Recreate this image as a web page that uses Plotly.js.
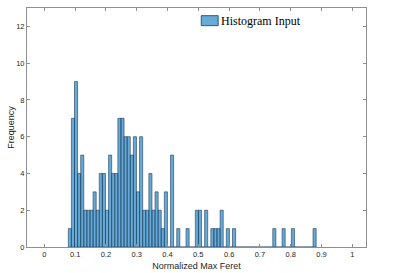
<!DOCTYPE html>
<html><head><meta charset="utf-8">
<script src="https://cdn.plot.ly/plotly-3.0.1.min.js"></script>
<style>html,body{margin:0;padding:0;background:#fff;}#chart{width:415px;height:273px;}</style>
</head><body><div id="chart"></div>
<script>
// Histogram bins (80 equal bins)
const firstEdge = 0.0779;
const binWidth = 0.01006;
const counts = [1,7,9,4,5,2,2,2,3,2,
                4,4,2,5,4,4,7,7,6,6,
                5,6,3,6,2,2,4,2,3,2,
                1,3,0,5,0,1,0,0,1,0,
                0,2,2,0,2,0,1,1,1,2,
                0,1,0,1,0,0,0,0,0,0,
                0,0,0,0,0,0,1,0,0,1,
                0,0,1,0,0,0,0,0,0,1];
const xTickVals = [0,0.1,0.2,0.3,0.4,0.5,0.6,0.7,0.8,0.9,1];
const xTickText = ['0','0.1','0.2','0.3','0.4','0.5','0.6','0.7','0.8','0.9','1'];
const yTickVals = [0,2,4,6,8,10,12];
const yTickText = ['0','2','4','6','8','10','12'];
const seriesName = 'Histogram Input';

const centers = counts.map((c,i)=> firstEdge + binWidth*(i+0.5));

const axisCol = '#8f8f8f';
const txtCol = '#262626';
const trace = {
  type:'bar', x:centers, y:counts, width:binWidth, name:seriesName,
  marker:{color:'rgba(0,114,189,0.6)', line:{color:'#1f3a55', width:0.6}},
  showlegend:false, hoverinfo:'skip'
};
const layout = {
  width:415, height:273,
  margin:{l:27, r:49, t:8, b:26, pad:0},
  paper_bgcolor:'#fff', plot_bgcolor:'#fff',
  font:{family:'Liberation Sans, Arial, sans-serif', size:7.5, color:txtCol},
  bargap:0,
  xaxis:{range:[-0.0562,1.0445], tickvals:xTickVals, ticktext:xTickText,
    ticks:'inside', ticklen:3, tickcolor:axisCol, showline:true, linecolor:axisCol, linewidth:1,
    mirror:'ticks', showgrid:false, zeroline:false, tickfont:{size:7.5, color:txtCol},
    title:{text:'Normalized Max Feret', font:{size:9, color:txtCol}, standoff:4}},
  yaxis:{range:[0,13], tickvals:yTickVals, ticktext:yTickText,
    ticks:'inside', ticklen:3, tickcolor:axisCol, showline:true, linecolor:axisCol, linewidth:1,
    mirror:'ticks', showgrid:false, zeroline:false, tickfont:{size:7.5, color:txtCol},
    title:{text:'Frequency', font:{size:9, color:txtCol}, standoff:0}},
  shapes:[{type:'rect', xref:'paper', yref:'paper', x0:0.514, x1:0.564, y0:0.926, y1:0.968,
    fillcolor:'rgba(0,114,189,0.6)', line:{color:'#1f3a55', width:0.8}}],
  annotations:[{xref:'paper', yref:'paper', x:0.566, y:0.947, xanchor:'left', yanchor:'middle',
    text:seriesName, showarrow:false, font:{family:'Liberation Serif, Times New Roman, serif', size:12, color:'#000'}}]
};
Plotly.newPlot('chart',[trace],layout,{displayModeBar:false, staticPlot:true});
</script></body></html>
